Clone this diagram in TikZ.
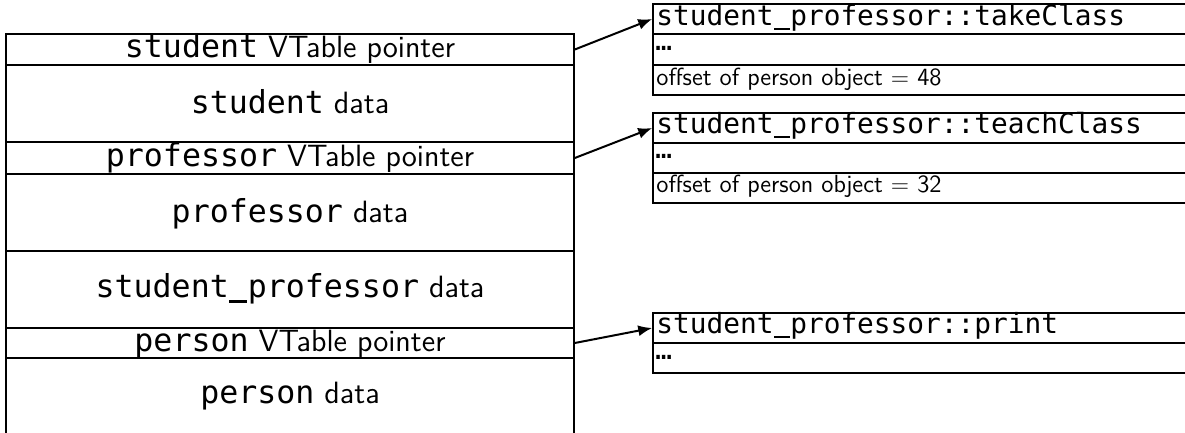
\documentclass[tikz,border=0pt]{standalone}
\usepackage{fontspec}
\newfontfamily\codefont{DejaVu Sans Mono}
\usetikzlibrary{arrows.meta}
\newcommand\bigcode[1]{{\fontsize{15.8}{18}\selectfont\codefont #1}}
\newcommand\smallcode[1]{{\fontsize{13.9}{16}\selectfont\codefont #1}}
% underscore drawn as a rule one character wide
\newcommand\usc{\leavevmode\hbox to 0.602em{\hss\vrule height -0.08em depth 0.17em width 0.56em\hss}}
\begin{document}
\begin{tikzpicture}[x=0.5pt,y=-0.5pt,
  leftrow/.style={draw, line width=0.8pt, inner sep=0pt, minimum width=284pt},
  rightrow/.style={draw, line width=0.8pt, inner sep=0pt, minimum width=273.5pt, minimum height=15pt},
  bigtxt/.style={anchor=base, inner sep=0pt, font=\fontsize{15.4}{18}\selectfont\sffamily},
  smalltxt/.style={anchor=base west, inner sep=0pt, font=\fontsize{12.4}{14}\selectfont\sffamily},
  vptr/.style={-{Latex[length=7pt,width=5.5pt]}, line width=1pt}]
\useasboundingbox (0,0) rectangle (1185,433);
\clip (0,0) rectangle (1185,433);

% object layout
\node[leftrow, minimum height=15.5pt] (sptr)   at (290,49.5)  {};
\node[leftrow, minimum height=38.5pt] (sdata)  at (290,103.5) {};
\node[leftrow, minimum height=16pt]   (pptr)   at (290,158)   {};
\node[leftrow, minimum height=38.5pt] (pdata)  at (290,212.5) {};
\node[leftrow, minimum height=38.5pt] (spdata) at (290,289.5) {};
\node[leftrow, minimum height=15pt]   (perptr) at (290,343)   {};
\node[leftrow, minimum height=56pt]   (perdata) at (290,414)  {};

\node[bigtxt] (sptr-t)    at (290,57.3)  {\bigcode{student} VTable pointer};
\node[bigtxt] (sdata-t)   at (290,114)   {\bigcode{student} data};
\node[bigtxt] (pptr-t)    at (290,167)   {\bigcode{professor} VTable pointer};
\node[bigtxt] (pdata-t)   at (290,222)   {\bigcode{professor} data};
\node[bigtxt] (spdata-t)  at (290,297.5) {\bigcode{student\usc professor} data};
\node[bigtxt] (perptr-t)  at (290,351.7) {\bigcode{person} VTable pointer};
\node[bigtxt] (perdata-t) at (290,403)   {\bigcode{person} data};

% vtable for student
\node[rightrow] (t1a) at (926.5,19)   {};
\node[rightrow, minimum height=15.5pt] (t1b) at (926.5,49.5) {};
\node[rightrow] (t1c) at (926.5,80)   {};
\node[smalltxt] (t1a-t) at (656,25.5) {\smallcode{student\usc professor::takeClass}};
\node[smalltxt] (t1b-t) at (655,51)   {\smallcode{\char"2026}};
\node[smalltxt] (t1c-t) at (656,86)   {offset of person object $=$ 48};

% vtable for professor
\node[rightrow] (t2a) at (926.5,128) {};
\node[rightrow] (t2b) at (926.5,158) {};
\node[rightrow] (t2c) at (926.5,188) {};
\node[smalltxt] (t2a-t) at (656,133.5) {\smallcode{student\usc professor::teachClass}};
\node[smalltxt] (t2b-t) at (655,159)   {\smallcode{\char"2026}};
\node[smalltxt] (t2c-t) at (656,193)   {offset of person object $=$ 32};

% vtable for person
\node[rightrow] (t3a) at (926.5,328) {};
\node[rightrow] (t3b) at (926.5,358) {};
\node[smalltxt] (t3a-t) at (656,333.5) {\smallcode{student\usc professor::print}};
\node[smalltxt] (t3b-t) at (655,359)   {\smallcode{\char"2026}};

% vtable pointers
\draw[vptr] (sptr.east) -- (t1a.west);
\draw[vptr] (pptr.east) -- (t2a.west);
\draw[vptr] (perptr.east) -- (t3a.west);
\end{tikzpicture}
\end{document}
